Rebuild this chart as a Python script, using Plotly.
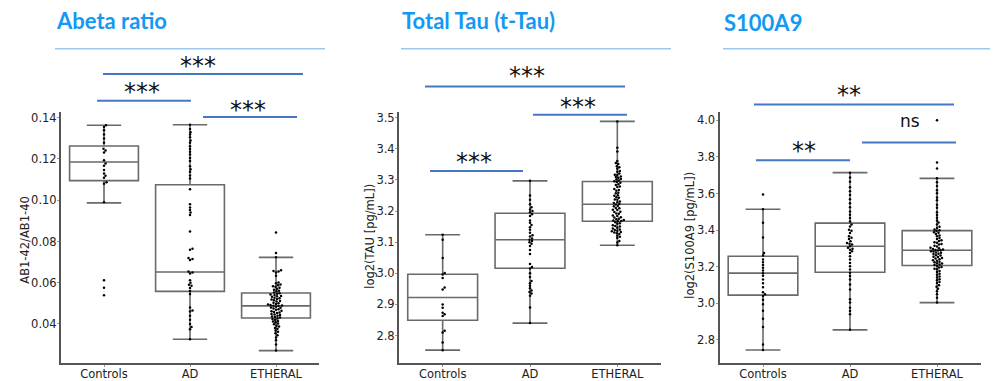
import numpy as np
import plotly.graph_objects as go

W, H = 993, 381

categories = ["Controls", "AD", "ETHERAL"]
panel_titles = ["Abeta ratio", "Total Tau (t-Tau)", "S100A9"]
y_titles = ["AB1-42/AB1-40", "log2(TAU [pg/mL])", "log2(S100A9 [pg/mL])"]

# ---- Abeta ratio (AB1-42 / AB1-40) ----
abeta_controls = [0.1433, 0.1363, 0.1355, 0.1339, 0.1318, 0.1299, 0.1279, 0.1250, 0.1241,
                  0.1231, 0.1194, 0.1178, 0.1167, 0.1146, 0.1130, 0.1119, 0.1109, 0.1087,
                  0.1080, 0.0990, 0.0612, 0.0576, 0.0539]
abeta_ad = [0.1433, 0.1366, 0.1345, 0.1330, 0.1318, 0.1305, 0.1290, 0.1278, 0.1262, 0.1248,
            0.1235, 0.1222, 0.1205, 0.1190, 0.1165, 0.1150, 0.1138, 0.1120, 0.1105, 0.1053,
            0.0980, 0.0965, 0.0952, 0.0940, 0.0928, 0.0848, 0.0765, 0.0760, 0.0720, 0.0715,
            0.0710, 0.0655, 0.0650, 0.0645, 0.0612, 0.0600, 0.0590, 0.0585, 0.0575, 0.0560,
            0.0545, 0.0480, 0.0465, 0.0460, 0.0440, 0.0420, 0.0400, 0.0385, 0.0375, 0.0326]
abeta_etheral = [0.0844, 0.0744, 0.0723, 0.0661, 0.0657, 0.0654, 0.0650, 0.0634, 0.0601, 0.0597,
                 0.0591, 0.0588, 0.0583, 0.0581, 0.0576, 0.0571, 0.0566, 0.0561, 0.0559, 0.0553,
                 0.0549, 0.0547, 0.0543, 0.0541, 0.0536, 0.0534, 0.0532, 0.0527, 0.0525, 0.0521,
                 0.0519, 0.0515, 0.0512, 0.0509, 0.0503, 0.0501, 0.0497, 0.0495, 0.0492, 0.0490,
                 0.0488, 0.0487, 0.0484, 0.0480, 0.0479, 0.0475, 0.0471, 0.0469, 0.0464, 0.0462,
                 0.0458, 0.0456, 0.0453, 0.0448, 0.0446, 0.0444, 0.0440, 0.0436, 0.0434, 0.0431,
                 0.0427, 0.0424, 0.0421, 0.0415, 0.0412, 0.0409, 0.0402, 0.0399, 0.0392, 0.0388,
                 0.0381, 0.0377, 0.0369, 0.0362, 0.0355, 0.0346, 0.0335, 0.0321, 0.0301, 0.0271]
abeta_lower = [0.0987, 0.0326, 0.0271]
abeta_q1 = [0.1095, 0.0558, 0.0429]
abeta_median = [0.1185, 0.0652, 0.0488]
abeta_q3 = [0.1263, 0.1075, 0.0550]
abeta_upper = [0.1363, 0.1366, 0.0723]
abeta_ticks = [0.04, 0.06, 0.08, 0.10, 0.12, 0.14]

# ---- Total Tau, log2 pg/mL ----
tau_controls = [3.124, 3.108, 3.049, 3.001, 2.996, 2.985, 2.954, 2.948, 2.900, 2.889,
                2.873, 2.868, 2.863, 2.815, 2.810, 2.778, 2.753]
tau_ad = [3.297, 3.250, 3.236, 3.222, 3.212, 3.205, 3.200, 3.196, 3.190, 3.184,
          3.170, 3.162, 3.155, 3.148, 3.140, 3.130, 3.122, 3.118, 3.112, 3.108,
          3.104, 3.100, 3.095, 3.088, 3.075, 3.062, 3.030, 3.020, 3.015, 3.000,
          2.988, 2.975, 2.968, 2.960, 2.952, 2.945, 2.940, 2.935, 2.928, 2.890, 2.840]
tau_etheral = [3.488, 3.403, 3.391, 3.361, 3.354, 3.351, 3.344, 3.341, 3.336, 3.329,
               3.326, 3.321, 3.317, 3.316, 3.311, 3.309, 3.307, 3.303, 3.301, 3.298,
               3.296, 3.293, 3.291, 3.286, 3.284, 3.279, 3.277, 3.271, 3.268, 3.265,
               3.259, 3.257, 3.251, 3.249, 3.244, 3.243, 3.237, 3.236, 3.231, 3.228,
               3.226, 3.223, 3.221, 3.216, 3.215, 3.210, 3.209, 3.204, 3.203, 3.198,
               3.197, 3.192, 3.191, 3.186, 3.184, 3.180, 3.179, 3.175, 3.174, 3.171,
               3.170, 3.168, 3.167, 3.164, 3.161, 3.159, 3.154, 3.152, 3.150, 3.146,
               3.144, 3.141, 3.139, 3.137, 3.135, 3.133, 3.131, 3.129, 3.126, 3.121,
               3.117, 3.113, 3.104, 3.099, 3.090]
tau_lower = [2.753, 2.840, 3.090]
tau_q1 = [2.849, 3.016, 3.167]
tau_median = [2.922, 3.108, 3.222]
tau_q3 = [2.997, 3.193, 3.295]
tau_upper = [3.124, 3.297, 3.488]
tau_ticks = [2.8, 2.9, 3.0, 3.1, 3.2, 3.3, 3.4, 3.5]

# ---- S100A9, log2 pg/mL ----
s100_controls = [3.594, 3.514, 3.440, 3.360, 3.275, 3.262, 3.240, 3.225, 3.210, 3.195,
                 3.180, 3.165, 3.150, 3.130, 3.110, 3.088, 3.060, 3.050, 3.040, 3.020,
                 2.995, 2.960, 2.915, 2.870, 2.775, 2.745]
s100_ad = [3.714, 3.688, 3.665, 3.634, 3.612, 3.592, 3.569, 3.547, 3.525, 3.502,
           3.484, 3.466, 3.447, 3.431, 3.420, 3.402, 3.396, 3.384, 3.366, 3.358,
           3.351, 3.339, 3.330, 3.326, 3.321, 3.312, 3.303, 3.298, 3.293, 3.284,
           3.275, 3.257, 3.239, 3.221, 3.203, 3.185, 3.167, 3.149, 3.130, 3.103,
           3.076, 3.022, 3.004, 2.976, 2.958, 2.940, 2.855]
s100_etheral = [4.000, 3.770, 3.737, 3.683, 3.662, 3.641, 3.618, 3.602, 3.578, 3.563,
                3.538, 3.522, 3.497, 3.482, 3.468, 3.453, 3.442, 3.431, 3.419, 3.411,
                3.404, 3.399, 3.395, 3.389, 3.386, 3.379, 3.371, 3.366, 3.357, 3.352,
                3.344, 3.341, 3.334, 3.331, 3.324, 3.321, 3.314, 3.311, 3.304, 3.301,
                3.297, 3.294, 3.292, 3.290, 3.288, 3.284, 3.283, 3.278, 3.276, 3.271,
                3.269, 3.263, 3.261, 3.255, 3.253, 3.247, 3.245, 3.241, 3.236, 3.233,
                3.227, 3.225, 3.219, 3.217, 3.212, 3.209, 3.205, 3.199, 3.196, 3.189,
                3.186, 3.177, 3.171, 3.161, 3.156, 3.147, 3.141, 3.131, 3.126, 3.117,
                3.111, 3.099, 3.091, 3.079, 3.066, 3.049, 3.031, 3.004]
s100_lower = [2.745, 2.855, 3.004]
s100_q1 = [3.045, 3.170, 3.207]
s100_median = [3.165, 3.312, 3.290]
s100_q3 = [3.257, 3.438, 3.397]
s100_upper = [3.514, 3.714, 3.683]
s100_ticks = [2.8, 3.0, 3.2, 3.4, 3.6, 3.8, 4.0]

panels = [
    dict(groups=[abeta_controls, abeta_ad, abeta_etheral], lower=abeta_lower, q1=abeta_q1,
         median=abeta_median, q3=abeta_q3, upper=abeta_upper, ticks=abeta_ticks, fmt="{:.2f}",
         yrange=[0.02105, 0.1428], xpx=(61, 319)),
    dict(groups=[tau_controls, tau_ad, tau_etheral], lower=tau_lower, q1=tau_q1,
         median=tau_median, q3=tau_q3, upper=tau_upper, ticks=tau_ticks, fmt="{:.1f}",
         yrange=[2.7115, 3.5185], xpx=(399, 661)),
    dict(groups=[s100_controls, s100_ad, s100_etheral], lower=s100_lower, q1=s100_q1,
         median=s100_median, q3=s100_q3, upper=s100_upper, ticks=s100_ticks, fmt="{:.1f}",
         yrange=[2.6734, 4.046], xpx=(719.5, 980.5)),
]

PLOT_TOP, PLOT_BOTTOM = 111.5, 364.0
DOT = 2.5


def px_x(p):
    return p / W


def px_y(p):
    return 1 - p / H


def swarm_offsets(values, px_per_unit, px_per_cat, dot=3.0):
    """Beeswarm layout: push each dot sideways until it no longer overlaps."""
    vals = np.asarray(values, dtype=float)
    offsets = np.zeros(len(vals))
    placed = []
    candidates = [0.0]
    for s in range(1, 80):
        candidates += [0.5 * s, -0.5 * s]
    for i in np.argsort(vals):
        ypx = vals[i] * px_per_unit
        for c in candidates:
            if all((c - px) ** 2 + (ypx - py) ** 2 >= dot ** 2 for px, py in placed):
                break
        placed.append((c, ypx))
        offsets[i] = c / px_per_cat
    return offsets


fig = go.Figure()
layout = {}
AXIS_COLOR = "#555555"
TICK_FONT = dict(family="DejaVu Sans", size=11.5, color="#222222")

for k, p in enumerate(panels):
    n = "" if k == 0 else str(k + 1)
    xa, ya = "x" + n, "y" + n
    x0, x1 = p["xpx"]
    px_per_cat = (x1 - x0) / 3.0
    px_per_unit = (PLOT_BOTTOM - PLOT_TOP) / (p["yrange"][1] - p["yrange"][0])

    fig.add_trace(go.Box(
        x=[0, 1, 2], q1=p["q1"], median=p["median"], q3=p["q3"],
        lowerfence=p["lower"], upperfence=p["upper"],
        boxpoints=False, fillcolor="rgba(255,255,255,0)",
        line=dict(color="#6a6a6a", width=1.6), whiskerwidth=0.5,
        width=0.8, xaxis=xa, yaxis=ya, showlegend=False, hoverinfo="skip",
    ))
    for ci, vals in enumerate(p["groups"]):
        offs = swarm_offsets(vals, px_per_unit, px_per_cat, dot=DOT)
        fig.add_trace(go.Scatter(
            x=ci + offs, y=vals, mode="markers",
            marker=dict(color="black", size=DOT),
            xaxis=xa, yaxis=ya, showlegend=False, cliponaxis=False,
        ))

    layout["xaxis" + n] = dict(
        domain=[px_x(x0), px_x(x1)], range=[-0.5, 2.5], anchor=ya,
        tickvals=[0, 1, 2], ticktext=categories, tickfont=TICK_FONT,
        showline=True, linecolor=AXIS_COLOR, linewidth=2, ticks="outside",
        ticklen=2, tickcolor="#999999", showgrid=False, zeroline=False,
        ticklabelstandoff=-3,
    )
    layout["yaxis" + n] = dict(
        domain=[px_y(PLOT_BOTTOM), px_y(PLOT_TOP)], range=p["yrange"], anchor=xa,
        tickvals=p["ticks"], ticktext=[p["fmt"].format(t) for t in p["ticks"]],
        tickfont=TICK_FONT, showline=True, linecolor=AXIS_COLOR, linewidth=2,
        ticks="outside", ticklen=2, tickcolor="#999999", showgrid=False, zeroline=False,
        ticklabelstandoff=-2,
    )

annotations = []
shapes = []

# panel headings and rules beneath them
TITLE_BLUE = "#1499f2"
heading_pos = [(54, 20), (400, 20), (722, 21.5)]
rule_spans = [(55, 325), (401, 671), (723, 990)]
for t, (hx, hy), (r0, r1) in zip(panel_titles, heading_pos, rule_spans):
    annotations.append(dict(text="<b>%s</b>" % t, x=px_x(hx), y=px_y(hy), xref="paper",
                            yref="paper", xanchor="left", yanchor="middle", showarrow=False,
                            font=dict(family="Lato", size=22, color=TITLE_BLUE)))
    shapes.append(dict(type="line", xref="paper", yref="paper", x0=px_x(r0), x1=px_x(r1),
                       y0=px_y(48), y1=px_y(48), line=dict(color="#9cc8ef", width=1.5)))

# y-axis titles
ytitle_pos = [(25, 240), (370, 237), (690, 236)]
for t, (tx, ty) in zip(y_titles, ytitle_pos):
    annotations.append(dict(text=t, x=px_x(tx), y=px_y(ty), xref="paper", yref="paper",
                            xanchor="center", yanchor="middle", textangle=-90,
                            showarrow=False, font=dict(family="DejaVu Sans", size=11.5,
                                                       color="#222222")))

# significance brackets: (x0, x1, bar y, label, label x, label y) in pixels
sig_bars = [
    (103, 303, 73.3, "***", 198, 62.7),
    (97, 191, 100.3, "***", 142, 88.0),
    (203, 297, 116.7, "***", 248, 107.0),
    (425, 625, 86.0, "***", 527, 72.7),
    (533, 627, 114.3, "***", 578, 103.3),
    (430, 523, 171.0, "***", 474, 159.3),
    (754, 954, 104.0, "**", 849, 91.7),
    (756, 850, 160.0, "**", 804, 147.7),
    (862, 956, 142.3, "ns", 910, 120.7),
]
for x0, x1, by, lab, lx, ly in sig_bars:
    shapes.append(dict(type="line", xref="paper", yref="paper", x0=px_x(x0), x1=px_x(x1),
                       y0=px_y(by), y1=px_y(by), line=dict(color="#4677c4", width=2)))
    if lab == "ns":
        annotations.append(dict(text=lab, x=px_x(lx), y=px_y(ly), xref="paper", yref="paper",
                                xanchor="center", yanchor="middle", showarrow=False,
                                font=dict(family="DejaVu Sans", size=17, color="#111111")))
    else:
        annotations.append(dict(text=lab, x=px_x(lx), y=px_y(ly + 3), xref="paper",
                                yref="paper", xanchor="center", yanchor="middle",
                                showarrow=False,
                                font=dict(family="DejaVu Sans", size=24, color="#111111")))

fig.update_layout(
    width=W, height=H, autosize=False,
    margin=dict(l=0, r=0, t=0, b=0),
    paper_bgcolor="white", plot_bgcolor="white",
    annotations=annotations, shapes=shapes, **layout,
)

fig.write_html("out.html")
